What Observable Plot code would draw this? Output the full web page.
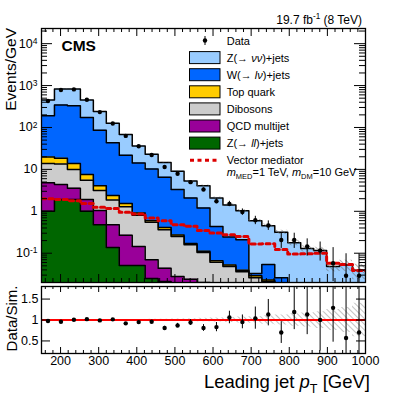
<!DOCTYPE html>
<html><head><meta charset="utf-8">
<script src="https://cdn.jsdelivr.net/npm/d3@7"></script>
<script src="https://cdn.jsdelivr.net/npm/@observablehq/plot@0.6"></script>
<style>
body{margin:0;background:#fff;}
#wrap{position:relative;width:407px;height:395px;overflow:hidden;font-family:"Liberation Sans",Arial,Helvetica,sans-serif;}
#wrap svg{position:absolute;left:0;}
</style></head><body><div id="wrap"></div>
<script>
// ---- data ----
const edges = [150,184,218,252,286,320,354,388,422,456,490,524,558,592,626,660,694,728,762,796,830,864,898,932,966,1000];
const zll     = [1.0,1.91,1.91,1.0,0.48,0.137,0.051,0.051,0.025,0.021,0.012,0.01,0.008,0.006,0.005,0.004,0.003,0.003,0.002,0.002,0.002,0.001,0.001,0.001,0.001];
const qcd     = [3.77,2.46,1.65,0.91,0.565,0.343,0.219,0.094,0.045,0.023,0.016,0.014,0.012,0.008,0.006,0.005,0.004,0.003,0.003,0.002,0.002,0.002,0.001,0.001,0.001];
const diboson = [9.1,9.0,6.4,3.6,2.1,1.39,1.01,0.655,0.475,0.32,0.223,0.135,0.084,0.047,0.037,0.027,0.019,0.015,0.012,0.01,0.009,0.008,0.007,0.006,0.005];
const topq    = [5.8,5.0,3.8,2.05,0.9,0.52,0.25,0.11,0.053,0.049,0.022,0.012,0.008,0.005,0.004,0.003,0.003,0.002,0.002,0.002,0.001,0.001,0.001,0.001,0.001];
const wlnu    = [170,325,316,165,82,41,20.2,13.3,9.6,6.1,3.04,1.91,1.09,0.37,0.19,0.17,0.004,0.031,0.007,0.002,0.002,0.001,0.001,0.001,0.001];
const znn     = [262,486,499,279,155,83.6,45.9,22,12.7,8.07,5.69,3.19,2.89,1.65,1.17,0.82,0.56,0.396,0.29,0.16,0.113,0.103,0.037,0.042,0.03];
const signal  = [1.99,1.91,1.79,1.53,1.25,1.16,0.946,0.861,0.69,0.598,0.48,0.437,0.35,0.302,0.276,0.251,0.166,0.168,0.123,0.0957,0.0968,0.1,0.0575,0.0536,0.0385];
const dataV   = [427,784,811,459,233,124,63,35.6,22.0,11.4,7.84,4.96,3.31,1.74,1.50,0.96,0.61,0.46,0.207,0.207,0.145,0.116,0.0575,0.029,0.029];
const dataLo  = [424,779,806,455,230,122,61.6,34.6,21.2,10.8,7.3,4.57,3.0,1.52,1.29,0.80,0.48,0.35,0.13,0.13,0.085,0.065,0.021,0.005,0.005];
const dataHi  = [431,789,816,463,236,126,64.4,36.6,22.8,12.0,8.4,5.35,3.63,1.98,1.73,1.14,0.76,0.59,0.30,0.30,0.22,0.185,0.136,0.097,0.097];
const ratio   = [0.977,0.96,1.007,1.02,0.99,1.016,0.92,0.95,0.96,0.81,0.87,0.94,0.81,0.83,1.06,0.95,1.04,1.13,0.70,1.19,1.13,1.0,1.29,0.57,0.70];
const ratioLo = [0.97,0.955,0.998,1.01,0.98,1.0,0.90,0.93,0.94,0.77,0.82,0.87,0.73,0.72,0.91,0.79,0.78,0.86,0.44,0.77,0.65,0.26,0.47,0.0,0.0];
const ratioHi = [0.985,0.965,1.016,1.03,1.0,1.03,0.94,0.97,0.98,0.85,0.92,1.01,0.89,0.94,1.21,1.12,1.31,1.49,0.96,1.85,1.9,2.0,2.5,3.5,3.5];
const mcUnc   = [0.01,0.01,0.01,0.01,0.01,0.01,0.012,0.014,0.016,0.02,0.025,0.03,0.04,0.05,0.06,0.07,0.08,0.1,0.12,0.15,0.17,0.2,0.25,0.3,0.4];
const yTicks = [0.1,1,10,100,1000,10000];
const yTickLabels = ["10^-1","1","10","10^2","10^3","10^4"];
const xTicks = [200,300,400,500,600,700,800,900,1000];
const rTicks = [0.5,1,1.5];
const rTickLabels = ["0.5","1","1.5"];
const layerNames = ["Z(→ ll)+jets","QCD multijet","Dibosons","Top quark","W(→ lν)+jets","Z(→ νν)+jets"];
const layerColors = ["#006600","#990099","#cccccc","#ffcc00","#0066ff","#99ccff"];

// ---- derived ----
const layers = [zll,qcd,diboson,topq,wlnu,znn];
const cum = [];
layers.forEach((arr,k)=>{ cum.push(arr.map((v,i)=> v + (k ? cum[k-1][i] : 0))); });
const total = cum[5];
const bins = dataV.map((v,i)=>({i, xc:(edges[i]+edges[i+1])/2, data:v, lo:dataLo[i], hi:dataHi[i],
  r:ratio[i], rlo:ratioLo[i], rhi:ratioHi[i]}));
const steps = (f) => edges.map((x,i)=>{ const j = Math.min(i, dataV.length-1); return Object.assign({x}, f(j)); });

const FONT = '"Liberation Sans",Arial,Helvetica,sans-serif';
const fw = 324;
const fhMain = 254, fhRat = 67;
const xMinor = []; for (let v = 160; v <= 1000; v += 20) if (v % 100) xMinor.push(v);
const yMinor = []; for (let e = -2; e <= 4; e++) for (let m = 2; m <= 9; m++) { const v = m*Math.pow(10,e); if (v >= 0.02 && v <= 23000) yMinor.push(v); }
const labMap = new Map(yTicks.map((d,i)=>[d, yTickLabels[i]]));
const rLabMap = new Map(rTicks.map((d,i)=>[d, rTickLabels[i]]));

// ---- main panel ----
const mainMarks = [];
for (let k = 5; k >= 0; k--) {
  mainMarks.push(Plot.areaY(steps(j=>({y:cum[k][j]})), {x:"x", y1:1e-5, y2:"y", curve:"step-after", fill:layerColors[k], clip:true}));
  mainMarks.push(Plot.lineY(steps(j=>({y:cum[k][j]})), {x:"x", y:"y", curve:"step-after", stroke:"black", strokeWidth:1.5, clip:true}));
}
mainMarks.push(Plot.areaY(steps(j=>({lo:total[j]*(1-mcUnc[j]), hi:total[j]*(1+mcUnc[j])})), {x:"x", y1:"lo", y2:"hi", curve:"step-after", fill:"url(#hatchMain)", clip:true}));
mainMarks.push(Plot.lineY(steps(j=>({y:signal[j]})), {x:"x", y:"y", curve:"step-after", stroke:"#dd0000", strokeWidth:3, strokeDasharray:"4,3.5", clip:true}));
mainMarks.push(Plot.ruleX(bins, {x:"xc", y1:"lo", y2:"hi", stroke:"black", strokeWidth:1, clip:true}));
mainMarks.push(Plot.dot(bins, {x:"xc", y:"data", r:2.2, fill:"black", stroke:"none", clip:true}));
// ticks (inside frame)
mainMarks.push(Plot.ruleX(xTicks, {x:d=>d, insetTop:fhMain-8, stroke:"black"}));
mainMarks.push(Plot.ruleX(xTicks, {x:d=>d, insetBottom:fhMain-8, stroke:"black"}));
mainMarks.push(Plot.ruleX(xMinor, {x:d=>d, insetTop:fhMain-4, stroke:"black"}));
mainMarks.push(Plot.ruleX(xMinor, {x:d=>d, insetBottom:fhMain-4, stroke:"black"}));
mainMarks.push(Plot.ruleY(yTicks, {y:d=>d, insetRight:fw-11, stroke:"black"}));
mainMarks.push(Plot.ruleY(yTicks, {y:d=>d, insetLeft:fw-11, stroke:"black"}));
mainMarks.push(Plot.ruleY(yMinor, {y:d=>d, insetRight:fw-6, stroke:"black"}));
mainMarks.push(Plot.ruleY(yMinor, {y:d=>d, insetLeft:fw-6, stroke:"black"}));
mainMarks.push(Plot.axisY(yTicks, {tickSize:0, tickPadding:4, tickFormat:d=>labMap.get(d), fontSize:12.5, label:null}));
mainMarks.push(Plot.frame({stroke:"black", strokeWidth:1.3}));

const mainSvg = Plot.plot({
  width:407, height:285, marginLeft:41, marginRight:42, marginTop:28, marginBottom:3,
  x:{domain:[150,1000], axis:null},
  y:{type:"log", domain:[0.02,23000], label:null},
  style:{fontFamily:FONT, background:"none", color:"black"},
  marks:mainMarks
});

// ---- ratio panel ----
const ratMarks = [
  Plot.areaY(steps(j=>({lo:1-mcUnc[j], hi:1+mcUnc[j]})), {x:"x", y1:"lo", y2:"hi", curve:"step-after", fill:"url(#hatchRat)", clip:true}),
  Plot.ruleY([1], {stroke:"#ff0000", strokeWidth:2}),
  Plot.ruleX(bins, {x:"xc", y1:"rlo", y2:"rhi", stroke:"black", strokeWidth:1, clip:true}),
  Plot.dot(bins, {x:"xc", y:"r", r:2.2, fill:"black", stroke:"none", clip:true}),
  Plot.ruleX(xTicks, {x:d=>d, insetTop:fhRat-6, stroke:"black"}),
  Plot.ruleX(xTicks, {x:d=>d, insetBottom:fhRat-6, stroke:"black"}),
  Plot.ruleX(xMinor, {x:d=>d, insetTop:fhRat-3, stroke:"black"}),
  Plot.ruleX(xMinor, {x:d=>d, insetBottom:fhRat-3, stroke:"black"}),
  Plot.ruleY(rTicks, {y:d=>d, insetRight:fw-9, stroke:"black"}),
  Plot.ruleY(rTicks, {y:d=>d, insetLeft:fw-9, stroke:"black"}),
  Plot.axisY(rTicks, {tickSize:0, tickPadding:3, tickFormat:d=>rLabMap.get(d), fontSize:12.5, label:null}),
  Plot.axisX(xTicks, {tickSize:0, tickPadding:3, tickFormat:d=>String(d), fontSize:12.5, label:null}),
  Plot.frame({stroke:"black", strokeWidth:1.3})
];
const ratSvg = Plot.plot({
  width:407, height:112, marginLeft:41, marginRight:42, marginTop:3, marginBottom:42,
  x:{domain:[150,1000], label:null},
  y:{domain:[0.2,1.8], label:null},
  style:{fontFamily:FONT, background:"none", color:"black"},
  marks:ratMarks
});

function addHatch(svg, id, color) {
  const defs = d3.select(svg).insert("defs", ":first-child");
  const p = defs.append("pattern").attr("id", id).attr("patternUnits","userSpaceOnUse")
    .attr("width",4).attr("height",4).attr("patternTransform","rotate(-45)");
  p.append("line").attr("x1",0).attr("y1",0).attr("x2",0).attr("y2",4).attr("stroke",color).attr("stroke-width",1);
}
addHatch(mainSvg, "hatchMain", "#666");
addHatch(ratSvg, "hatchRat", "#888");

// superscripts in tick labels
d3.select(mainSvg).selectAll("text").each(function(){
  const s = this.textContent; const m = s.match(/^(.*)\^(.*)$/);
  if (m) { const el = d3.select(this); el.text(m[1]); el.append("tspan").attr("dy","-0.45em").attr("font-size","0.68em").text(m[2]); }
});

const wrap = document.getElementById("wrap");
mainSvg.style.top = "0px";
ratSvg.style.top = "283px";
wrap.appendChild(mainSvg);
wrap.appendChild(ratSvg);

// ---- overlay: titles, annotations, legend ----
const ov = d3.create("svg").attr("width",407).attr("height",395).style("top","0px")
  .style("font-family", FONT);
function rich(x, y, parts, size, anchor, extra) {
  const t = ov.append("text").attr("x",x).attr("y",y).attr("font-size",size).attr("text-anchor",anchor||"start").attr("fill","black");
  if (extra) extra(t);
  let shift = 0;
  parts.forEach(p => {
    if (typeof p === "string") p = {t:p};
    const target = p.sub ? size*0.28 : p.sup ? -size*0.38 : 0;
    const ts = t.append("tspan").text(p.t).attr("dy", target - shift);
    shift = target;
    if (p.sub || p.sup) ts.attr("font-size", size*0.68);
    if (p.i) ts.attr("font-style","italic");
    if (p.b) ts.attr("font-weight","bold");
  });
  return t;
}
rich(61.5, 50.7, [{t:"CMS", b:true}], 15.5);
rich(362, 23.5, ["19.7 fb", {t:"-1", sup:true}, " (8 TeV)"], 12, "end");
rich(16, 28, ["Events/GeV"], 15.5, "end", t=>t.attr("transform","rotate(-90,16,28)"));
rich(17, 318.5, ["Data/Sim."], 15, "middle", t=>t.attr("transform","rotate(-90,17,318.5)"));
rich(370, 388, ["Leading jet ", {t:"p", i:true}, {t:"T", sub:true}, " [GeV]"], 18.5, "end");

// legend
const rowY = [40.5, 57.6, 74.7, 91.8, 108.9, 126, 143.1, 160.2];
const lg = ov.append("g");
lg.append("line").attr("x1",205).attr("x2",205).attr("y1",rowY[0]-4.5).attr("y2",rowY[0]+4.5).attr("stroke","black");
lg.append("circle").attr("cx",205).attr("cy",rowY[0]).attr("r",2.2).attr("fill","black");
rich(226.7, rowY[0]+4, ["Data"], 11);
const legendOrder = [5,4,3,2,1,0];
const legendParts = {
  5: ["Z(→ ", {t:"νν", i:true}, ")+jets"],
  4: ["W(→ ", {t:"lν", i:true}, ")+jets"],
  3: [layerNames[3]], 2: [layerNames[2]], 1: [layerNames[1]],
  0: ["Z(→ ", {t:"ll", i:true}, ")+jets"]
};
legendOrder.forEach((k, r) => {
  const cy = rowY[r+1];
  lg.append("rect").attr("x",189.5).attr("y",cy-6).attr("width",30.5).attr("height",12)
    .attr("fill",layerColors[k]).attr("stroke","black").attr("stroke-width",1);
  rich(226.7, cy+4, legendParts[k], 11);
});
lg.append("line").attr("x1",190).attr("x2",220).attr("y1",rowY[7]).attr("y2",rowY[7])
  .attr("stroke","#dd0000").attr("stroke-width",3).attr("stroke-dasharray","4,3.5");
rich(226.7, rowY[7]+4, ["Vector mediator"], 11);
rich(226.7, 175.7, [{t:"m", i:true}, {t:"MED", sub:true}, "=1 TeV, ", {t:"m", i:true}, {t:"DM", sub:true}, "=10 GeV"], 11);
wrap.appendChild(ov.node());
</script></body></html>
